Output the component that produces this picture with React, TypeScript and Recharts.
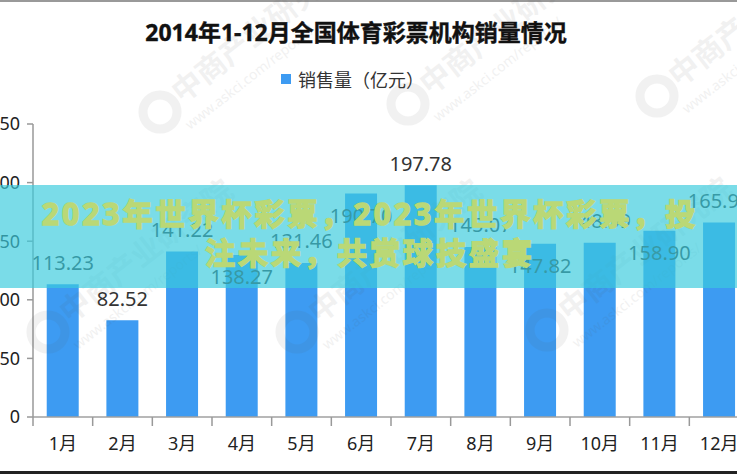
import React from 'react';
import { BarChart, Bar, XAxis, YAxis, LabelList } from 'recharts';

const months = ['1月', '2月', '3月', '4月', '5月', '6月', '7月', '8月', '9月', '10月', '11月', '12月'];
const sales = [113.23, 82.52, 141.22, 138.27, 131.46, 190.7, 197.78, 145.07, 147.82, 148.59, 158.9, 165.95];
const yTicks = [0, 50, 100, 150, 200, 250];
const seriesName = '销售量（亿元）';
const title = '2014年1-12月全国体育彩票机构销量情况';
const bannerLines = ['2023年世界杯彩票，2023年世界杯彩票，投', '注未来，共赏球技盛宴'];

const FONT = "'Noto Sans', 'Noto Sans CJK SC', sans-serif";
const BAR_COLOR = '#3d9bf2';
const PLOT_LEFT = 33;
const PLOT_TOP = 124;
const PLOT_BOTTOM = 417;
const PLOT_W = 716;
const STEP = PLOT_W / months.length;
// labels that sit inside the bar top in the original
const labelsBelow = [3, 5, 8, 10];

const data = months.map((m, i) => ({ month: m, value: sales[i] }));

const XTick = (props: any) => {
    const { x, payload } = props;
    return (
        <g>
            <line x1={x - STEP / 2} x2={x - STEP / 2} y1={PLOT_BOTTOM} y2={PLOT_BOTTOM + 9} stroke="#999" strokeWidth={1.5} />
            <text x={x} y={443} textAnchor="middle" dominantBaseline="central" fontSize={18} fill="#222" fontFamily={FONT}>
                {payload.value}
            </text>
        </g>
    );
};

const ValueLabel = (props: any) => {
    const { x, y, width, value } = props;
    const idx = props.index ?? sales.indexOf(Number(value));
    const ty = labelsBelow.includes(idx) ? y + 22 : y - 22;
    return (
        <text x={x + width / 2} y={ty} textAnchor="middle" dominantBaseline="central" fontSize={20} fill="#333" fontFamily={FONT}>
            {Number(value).toFixed(2)}
        </text>
    );
};

const watermarks = [
    { x: 160, y: 112 }, { x: 408, y: 104 }, { x: 657, y: 96 },
    { x: 48, y: 332 }, { x: 297, y: 332 }, { x: 547, y: 330 },
];

const Watermarks = () => (
    <svg width={737} height={474} style={{ position: 'absolute', left: 0, top: 0, pointerEvents: 'none' }}>
        {watermarks.map((w, i) => (
            <g key={i} opacity={0.08}>
                <circle cx={w.x} cy={w.y} r={17} fill="none" stroke="#555" strokeWidth={9} />
                <text x={w.x + 22} y={w.y - 8} fontSize={30} fontWeight="bold" fill="#555" fontFamily={FONT}
                    transform={`rotate(-38 ${w.x + 22} ${w.y - 8})`}>中商产业研究院</text>
                <text x={w.x + 30} y={w.y + 18} fontSize={14} fill="#555" fontFamily={FONT}
                    transform={`rotate(-38 ${w.x + 30} ${w.y + 18})`}>www.askci.com/reports/</text>
            </g>
        ))}
    </svg>
);

const App: React.FC = () => {
    return (
        <div style={{ position: 'absolute', left: 0, top: 0, width: 737, height: 474, overflow: 'hidden', background: '#fff', fontFamily: FONT }}>
            <div style={{ position: 'absolute', left: 0, top: 0, width: 737, height: 2, background: '#999' }} />
            <div style={{ position: 'absolute', left: 0, top: 14, width: 712, textAlign: 'center', fontSize: 23, fontWeight: 'bold', color: '#111', lineHeight: '36px', WebkitTextStroke: '0.4px #111' }}>
                {title}
            </div>
            <div style={{ position: 'absolute', left: 281, top: 66, height: 26, display: 'flex', alignItems: 'center', fontSize: 18, color: '#333' }}>
                <span style={{ display: 'inline-block', width: 10, height: 10, background: BAR_COLOR, marginRight: 7 }} />
                <span>{seriesName}</span>
            </div>
            <div style={{ position: 'absolute', left: 0, top: 0 }}>
                <BarChart width={PLOT_LEFT + PLOT_W + 11} height={474} data={data} barCategoryGap="23%"
                    margin={{ top: PLOT_TOP, right: 11, left: 0, bottom: 474 - PLOT_BOTTOM - 40 }}>
                    <XAxis dataKey="month" height={40} axisLine={{ stroke: '#a0a0a0', strokeWidth: 1.5 }} tickLine={false}
                        tick={<XTick />} interval={0} />
                    <YAxis width={PLOT_LEFT} domain={[0, 250]} ticks={yTicks} interval={0}
                        axisLine={{ stroke: '#999', strokeWidth: 1.5 }} tickLine={{ stroke: '#999', strokeWidth: 1.5 }}
                        tickSize={6} tickMargin={7} tick={{ fontSize: 18, fill: '#222', fontFamily: FONT }} />
                    <Bar dataKey="value" fill={BAR_COLOR} isAnimationActive={false}>
                        <LabelList dataKey="value" content={<ValueLabel />} />
                    </Bar>
                </BarChart>
            </div>
            <Watermarks />
            <div style={{ position: 'absolute', left: 0, top: 185, width: 737, height: 103, background: 'rgba(58,203,221,0.675)' }}>
                <div style={{ position: 'absolute', left: 0, top: 9, width: 740, textAlign: 'center', color: 'rgb(186,216,118)', fontWeight: 'bold', fontSize: 30, letterSpacing: 3, lineHeight: '39px', whiteSpace: 'nowrap', WebkitTextStroke: '1.6px rgb(186,216,118)' }}>
                    {bannerLines.map((l, i) => <div key={i}>{l}</div>)}
                </div>
            </div>
            <div style={{ position: 'absolute', left: 0, top: 471, width: 737, height: 3, background: '#222' }} />
        </div>
    );
};

export default App;
